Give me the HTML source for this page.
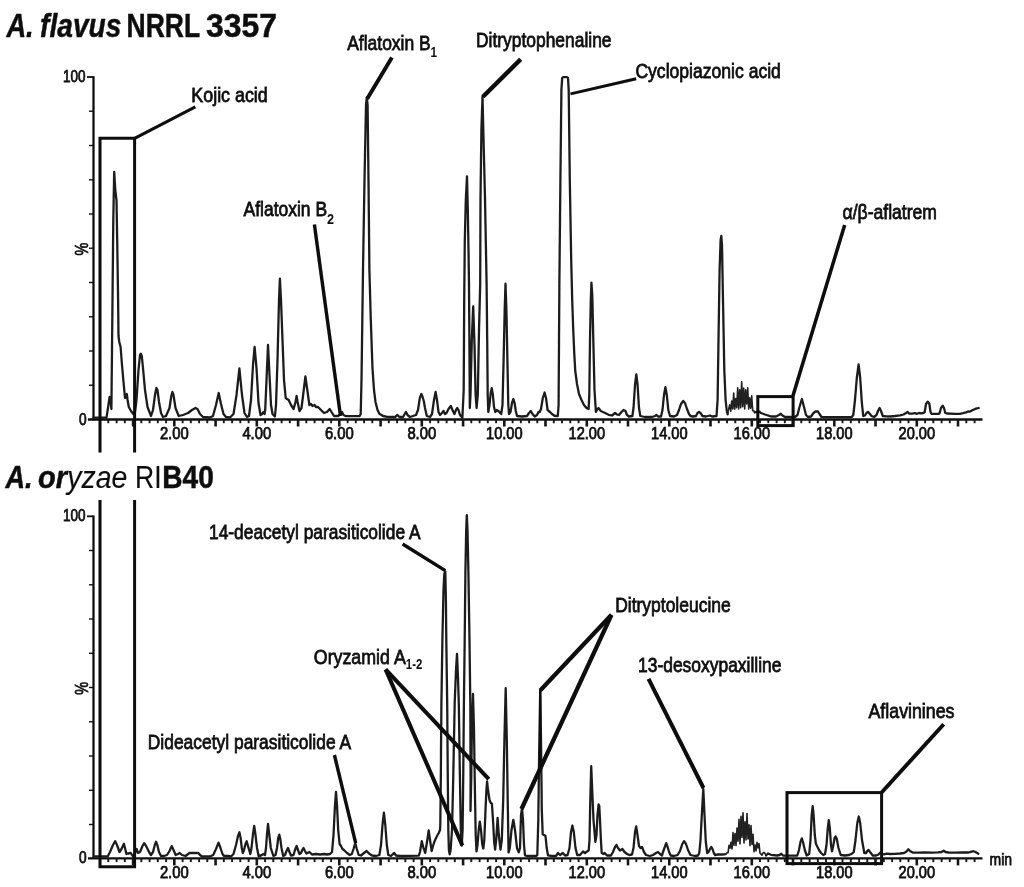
<!DOCTYPE html>
<html><head><meta charset="utf-8"><title>Chromatograms</title>
<style>html,body{margin:0;padding:0;background:#fff}svg{display:block}</style>
</head><body>
<svg width="1024" height="887" viewBox="0 0 1024 887">
<style>
text{font-family:"Liberation Sans",Arial,sans-serif;fill:#111}
.ax{stroke:#111;fill:none}
.tk{stroke:#151515;fill:none}
.tr{stroke:#1e1e1e;stroke-width:2.3;fill:none;stroke-linejoin:round;stroke-linecap:round}
.hp{stroke:#222;stroke-width:1.6;fill:none;stroke-linejoin:round;stroke-linecap:round}
.bx{stroke:#0a0a0a;stroke-width:3.0;fill:none}
.ln{stroke:#0a0a0a;fill:none;stroke-linecap:butt}
.tl{font-size:16px;stroke:#111;stroke-width:0.75px}
.lb{font-size:21px;stroke:#111;stroke-width:0.8px}
.sb{font-size:15px;font-weight:bold;stroke-width:0}
.ti{font-size:33.5px;font-weight:bold;stroke:#111;stroke-width:0.5px}
.it{font-style:italic}
.t2{font-size:30.5px}
.lt{font-weight:normal;stroke-width:0.15px}
</style>
<rect width="1024" height="887" fill="#fff"/>
<defs><filter id="soft" x="0" y="0" width="1024" height="887" filterUnits="userSpaceOnUse"><feGaussianBlur stdDeviation="0.45"/></filter></defs>
<g filter="url(#soft)">
<text y="37.3" class="ti"><tspan x="6.4" class="it" textLength="27.3" lengthAdjust="spacingAndGlyphs">A.</tspan> <tspan x="40.1" class="it" textLength="81.2" lengthAdjust="spacingAndGlyphs">flavus</tspan> <tspan x="126.6" textLength="73.0" lengthAdjust="spacingAndGlyphs">NRRL</tspan> <tspan x="206.0" textLength="71.0" lengthAdjust="spacingAndGlyphs">3357</tspan></text>
<text y="487.9" class="ti t2"><tspan x="5.5" class="it" textLength="27.0" lengthAdjust="spacingAndGlyphs">A.</tspan> <tspan x="38.0" class="it" textLength="29.0" lengthAdjust="spacingAndGlyphs">or</tspan><tspan x="67.3" class="it lt" textLength="60.0" lengthAdjust="spacingAndGlyphs">yzae</tspan> <tspan x="135.0" class="lt" textLength="26.5" lengthAdjust="spacingAndGlyphs">RI</tspan><tspan x="162.3" textLength="51.5" lengthAdjust="spacingAndGlyphs">B40</tspan></text>
<path d="M93.5,76.3 V420.2" class="ax" stroke-width="2.3"/>
<path d="M87.0,77.0 H93.5" class="ax" stroke-width="1.8"/>
<path d="M89.0,111.2 H93.5" class="ax" stroke-width="1.4"/>
<path d="M89.0,145.5 H93.5" class="ax" stroke-width="1.4"/>
<path d="M89.0,179.8 H93.5" class="ax" stroke-width="1.4"/>
<path d="M89.0,214.0 H93.5" class="ax" stroke-width="1.4"/>
<path d="M89.0,248.2 H93.5" class="ax" stroke-width="1.4"/>
<path d="M89.0,282.5 H93.5" class="ax" stroke-width="1.4"/>
<path d="M89.0,316.8 H93.5" class="ax" stroke-width="1.4"/>
<path d="M89.0,351.0 H93.5" class="ax" stroke-width="1.4"/>
<path d="M89.0,385.2 H93.5" class="ax" stroke-width="1.4"/>
<path d="M88,419.5 H982.5" class="ax" stroke-width="2.3"/>
<path d="M100.1,419.5 v3.7" class="tk" stroke-width="1.9"/>
<path d="M108.3,419.5 v3.7" class="tk" stroke-width="1.9"/>
<path d="M116.6,419.5 v3.7" class="tk" stroke-width="1.9"/>
<path d="M124.8,419.5 v3.7" class="tk" stroke-width="1.9"/>
<path d="M133.1,419.5 v7.0" class="tk" stroke-width="2.6"/>
<path d="M141.3,419.5 v3.7" class="tk" stroke-width="1.9"/>
<path d="M149.6,419.5 v3.7" class="tk" stroke-width="1.9"/>
<path d="M157.8,419.5 v3.7" class="tk" stroke-width="1.9"/>
<path d="M166.1,419.5 v3.7" class="tk" stroke-width="1.9"/>
<path d="M174.3,419.5 v7.0" class="tk" stroke-width="2.6"/>
<path d="M182.6,419.5 v3.7" class="tk" stroke-width="1.9"/>
<path d="M190.8,419.5 v3.7" class="tk" stroke-width="1.9"/>
<path d="M199.1,419.5 v3.7" class="tk" stroke-width="1.9"/>
<path d="M207.3,419.5 v3.7" class="tk" stroke-width="1.9"/>
<path d="M215.6,419.5 v7.0" class="tk" stroke-width="2.6"/>
<path d="M223.8,419.5 v3.7" class="tk" stroke-width="1.9"/>
<path d="M232.1,419.5 v3.7" class="tk" stroke-width="1.9"/>
<path d="M240.3,419.5 v3.7" class="tk" stroke-width="1.9"/>
<path d="M248.6,419.5 v3.7" class="tk" stroke-width="1.9"/>
<path d="M256.8,419.5 v7.0" class="tk" stroke-width="2.6"/>
<path d="M265.1,419.5 v3.7" class="tk" stroke-width="1.9"/>
<path d="M273.3,419.5 v3.7" class="tk" stroke-width="1.9"/>
<path d="M281.6,419.5 v3.7" class="tk" stroke-width="1.9"/>
<path d="M289.8,419.5 v3.7" class="tk" stroke-width="1.9"/>
<path d="M298.1,419.5 v7.0" class="tk" stroke-width="2.6"/>
<path d="M306.3,419.5 v3.7" class="tk" stroke-width="1.9"/>
<path d="M314.6,419.5 v3.7" class="tk" stroke-width="1.9"/>
<path d="M322.8,419.5 v3.7" class="tk" stroke-width="1.9"/>
<path d="M331.1,419.5 v3.7" class="tk" stroke-width="1.9"/>
<path d="M339.3,419.5 v7.0" class="tk" stroke-width="2.6"/>
<path d="M347.6,419.5 v3.7" class="tk" stroke-width="1.9"/>
<path d="M355.8,419.5 v3.7" class="tk" stroke-width="1.9"/>
<path d="M364.1,419.5 v3.7" class="tk" stroke-width="1.9"/>
<path d="M372.3,419.5 v3.7" class="tk" stroke-width="1.9"/>
<path d="M380.6,419.5 v7.0" class="tk" stroke-width="2.6"/>
<path d="M388.8,419.5 v3.7" class="tk" stroke-width="1.9"/>
<path d="M397.1,419.5 v3.7" class="tk" stroke-width="1.9"/>
<path d="M405.3,419.5 v3.7" class="tk" stroke-width="1.9"/>
<path d="M413.6,419.5 v3.7" class="tk" stroke-width="1.9"/>
<path d="M421.8,419.5 v7.0" class="tk" stroke-width="2.6"/>
<path d="M430.1,419.5 v3.7" class="tk" stroke-width="1.9"/>
<path d="M438.3,419.5 v3.7" class="tk" stroke-width="1.9"/>
<path d="M446.6,419.5 v3.7" class="tk" stroke-width="1.9"/>
<path d="M454.8,419.5 v3.7" class="tk" stroke-width="1.9"/>
<path d="M463.1,419.5 v7.0" class="tk" stroke-width="2.6"/>
<path d="M471.3,419.5 v3.7" class="tk" stroke-width="1.9"/>
<path d="M479.6,419.5 v3.7" class="tk" stroke-width="1.9"/>
<path d="M487.8,419.5 v3.7" class="tk" stroke-width="1.9"/>
<path d="M496.1,419.5 v3.7" class="tk" stroke-width="1.9"/>
<path d="M504.3,419.5 v7.0" class="tk" stroke-width="2.6"/>
<path d="M512.6,419.5 v3.7" class="tk" stroke-width="1.9"/>
<path d="M520.8,419.5 v3.7" class="tk" stroke-width="1.9"/>
<path d="M529.1,419.5 v3.7" class="tk" stroke-width="1.9"/>
<path d="M537.3,419.5 v3.7" class="tk" stroke-width="1.9"/>
<path d="M545.5,419.5 v7.0" class="tk" stroke-width="2.6"/>
<path d="M553.8,419.5 v3.7" class="tk" stroke-width="1.9"/>
<path d="M562.0,419.5 v3.7" class="tk" stroke-width="1.9"/>
<path d="M570.3,419.5 v3.7" class="tk" stroke-width="1.9"/>
<path d="M578.6,419.5 v3.7" class="tk" stroke-width="1.9"/>
<path d="M586.8,419.5 v7.0" class="tk" stroke-width="2.6"/>
<path d="M595.1,419.5 v3.7" class="tk" stroke-width="1.9"/>
<path d="M603.3,419.5 v3.7" class="tk" stroke-width="1.9"/>
<path d="M611.6,419.5 v3.7" class="tk" stroke-width="1.9"/>
<path d="M619.8,419.5 v3.7" class="tk" stroke-width="1.9"/>
<path d="M628.0,419.5 v7.0" class="tk" stroke-width="2.6"/>
<path d="M636.3,419.5 v3.7" class="tk" stroke-width="1.9"/>
<path d="M644.5,419.5 v3.7" class="tk" stroke-width="1.9"/>
<path d="M652.8,419.5 v3.7" class="tk" stroke-width="1.9"/>
<path d="M661.1,419.5 v3.7" class="tk" stroke-width="1.9"/>
<path d="M669.3,419.5 v7.0" class="tk" stroke-width="2.6"/>
<path d="M677.6,419.5 v3.7" class="tk" stroke-width="1.9"/>
<path d="M685.8,419.5 v3.7" class="tk" stroke-width="1.9"/>
<path d="M694.1,419.5 v3.7" class="tk" stroke-width="1.9"/>
<path d="M702.3,419.5 v3.7" class="tk" stroke-width="1.9"/>
<path d="M710.5,419.5 v7.0" class="tk" stroke-width="2.6"/>
<path d="M718.8,419.5 v3.7" class="tk" stroke-width="1.9"/>
<path d="M727.0,419.5 v3.7" class="tk" stroke-width="1.9"/>
<path d="M735.3,419.5 v3.7" class="tk" stroke-width="1.9"/>
<path d="M743.5,419.5 v3.7" class="tk" stroke-width="1.9"/>
<path d="M751.8,419.5 v7.0" class="tk" stroke-width="2.6"/>
<path d="M760.0,419.5 v3.7" class="tk" stroke-width="1.9"/>
<path d="M768.3,419.5 v3.7" class="tk" stroke-width="1.9"/>
<path d="M776.6,419.5 v3.7" class="tk" stroke-width="1.9"/>
<path d="M784.8,419.5 v3.7" class="tk" stroke-width="1.9"/>
<path d="M793.0,419.5 v7.0" class="tk" stroke-width="2.6"/>
<path d="M801.3,419.5 v3.7" class="tk" stroke-width="1.9"/>
<path d="M809.6,419.5 v3.7" class="tk" stroke-width="1.9"/>
<path d="M817.8,419.5 v3.7" class="tk" stroke-width="1.9"/>
<path d="M826.0,419.5 v3.7" class="tk" stroke-width="1.9"/>
<path d="M834.3,419.5 v7.0" class="tk" stroke-width="2.6"/>
<path d="M842.5,419.5 v3.7" class="tk" stroke-width="1.9"/>
<path d="M850.8,419.5 v3.7" class="tk" stroke-width="1.9"/>
<path d="M859.1,419.5 v3.7" class="tk" stroke-width="1.9"/>
<path d="M867.3,419.5 v3.7" class="tk" stroke-width="1.9"/>
<path d="M875.5,419.5 v7.0" class="tk" stroke-width="2.6"/>
<path d="M883.8,419.5 v3.7" class="tk" stroke-width="1.9"/>
<path d="M892.1,419.5 v3.7" class="tk" stroke-width="1.9"/>
<path d="M900.3,419.5 v3.7" class="tk" stroke-width="1.9"/>
<path d="M908.5,419.5 v3.7" class="tk" stroke-width="1.9"/>
<path d="M916.8,419.5 v7.0" class="tk" stroke-width="2.6"/>
<path d="M925.1,419.5 v3.7" class="tk" stroke-width="1.9"/>
<path d="M933.3,419.5 v3.7" class="tk" stroke-width="1.9"/>
<path d="M941.6,419.5 v3.7" class="tk" stroke-width="1.9"/>
<path d="M949.8,419.5 v3.7" class="tk" stroke-width="1.9"/>
<path d="M958.0,419.5 v7.0" class="tk" stroke-width="2.6"/>
<path d="M966.3,419.5 v3.7" class="tk" stroke-width="1.9"/>
<path d="M974.6,419.5 v3.7" class="tk" stroke-width="1.9"/>
<path d="M93.5,515.6 V859.1" class="ax" stroke-width="2.3"/>
<path d="M87.0,516.3 H93.5" class="ax" stroke-width="1.8"/>
<path d="M89.0,550.5 H93.5" class="ax" stroke-width="1.4"/>
<path d="M89.0,584.8 H93.5" class="ax" stroke-width="1.4"/>
<path d="M89.0,619.0 H93.5" class="ax" stroke-width="1.4"/>
<path d="M89.0,653.3 H93.5" class="ax" stroke-width="1.4"/>
<path d="M89.0,687.5 H93.5" class="ax" stroke-width="1.4"/>
<path d="M89.0,721.8 H93.5" class="ax" stroke-width="1.4"/>
<path d="M89.0,756.0 H93.5" class="ax" stroke-width="1.4"/>
<path d="M89.0,790.3 H93.5" class="ax" stroke-width="1.4"/>
<path d="M89.0,824.5 H93.5" class="ax" stroke-width="1.4"/>
<path d="M88,858.4 H982.5" class="ax" stroke-width="2.3"/>
<path d="M100.1,858.4 v3.7" class="tk" stroke-width="1.9"/>
<path d="M108.3,858.4 v3.7" class="tk" stroke-width="1.9"/>
<path d="M116.6,858.4 v3.7" class="tk" stroke-width="1.9"/>
<path d="M124.8,858.4 v3.7" class="tk" stroke-width="1.9"/>
<path d="M133.1,858.4 v7.0" class="tk" stroke-width="2.6"/>
<path d="M141.3,858.4 v3.7" class="tk" stroke-width="1.9"/>
<path d="M149.6,858.4 v3.7" class="tk" stroke-width="1.9"/>
<path d="M157.8,858.4 v3.7" class="tk" stroke-width="1.9"/>
<path d="M166.1,858.4 v3.7" class="tk" stroke-width="1.9"/>
<path d="M174.3,858.4 v7.0" class="tk" stroke-width="2.6"/>
<path d="M182.6,858.4 v3.7" class="tk" stroke-width="1.9"/>
<path d="M190.8,858.4 v3.7" class="tk" stroke-width="1.9"/>
<path d="M199.1,858.4 v3.7" class="tk" stroke-width="1.9"/>
<path d="M207.3,858.4 v3.7" class="tk" stroke-width="1.9"/>
<path d="M215.6,858.4 v7.0" class="tk" stroke-width="2.6"/>
<path d="M223.8,858.4 v3.7" class="tk" stroke-width="1.9"/>
<path d="M232.1,858.4 v3.7" class="tk" stroke-width="1.9"/>
<path d="M240.3,858.4 v3.7" class="tk" stroke-width="1.9"/>
<path d="M248.6,858.4 v3.7" class="tk" stroke-width="1.9"/>
<path d="M256.8,858.4 v7.0" class="tk" stroke-width="2.6"/>
<path d="M265.1,858.4 v3.7" class="tk" stroke-width="1.9"/>
<path d="M273.3,858.4 v3.7" class="tk" stroke-width="1.9"/>
<path d="M281.6,858.4 v3.7" class="tk" stroke-width="1.9"/>
<path d="M289.8,858.4 v3.7" class="tk" stroke-width="1.9"/>
<path d="M298.1,858.4 v7.0" class="tk" stroke-width="2.6"/>
<path d="M306.3,858.4 v3.7" class="tk" stroke-width="1.9"/>
<path d="M314.6,858.4 v3.7" class="tk" stroke-width="1.9"/>
<path d="M322.8,858.4 v3.7" class="tk" stroke-width="1.9"/>
<path d="M331.1,858.4 v3.7" class="tk" stroke-width="1.9"/>
<path d="M339.3,858.4 v7.0" class="tk" stroke-width="2.6"/>
<path d="M347.6,858.4 v3.7" class="tk" stroke-width="1.9"/>
<path d="M355.8,858.4 v3.7" class="tk" stroke-width="1.9"/>
<path d="M364.1,858.4 v3.7" class="tk" stroke-width="1.9"/>
<path d="M372.3,858.4 v3.7" class="tk" stroke-width="1.9"/>
<path d="M380.6,858.4 v7.0" class="tk" stroke-width="2.6"/>
<path d="M388.8,858.4 v3.7" class="tk" stroke-width="1.9"/>
<path d="M397.1,858.4 v3.7" class="tk" stroke-width="1.9"/>
<path d="M405.3,858.4 v3.7" class="tk" stroke-width="1.9"/>
<path d="M413.6,858.4 v3.7" class="tk" stroke-width="1.9"/>
<path d="M421.8,858.4 v7.0" class="tk" stroke-width="2.6"/>
<path d="M430.1,858.4 v3.7" class="tk" stroke-width="1.9"/>
<path d="M438.3,858.4 v3.7" class="tk" stroke-width="1.9"/>
<path d="M446.6,858.4 v3.7" class="tk" stroke-width="1.9"/>
<path d="M454.8,858.4 v3.7" class="tk" stroke-width="1.9"/>
<path d="M463.1,858.4 v7.0" class="tk" stroke-width="2.6"/>
<path d="M471.3,858.4 v3.7" class="tk" stroke-width="1.9"/>
<path d="M479.6,858.4 v3.7" class="tk" stroke-width="1.9"/>
<path d="M487.8,858.4 v3.7" class="tk" stroke-width="1.9"/>
<path d="M496.1,858.4 v3.7" class="tk" stroke-width="1.9"/>
<path d="M504.3,858.4 v7.0" class="tk" stroke-width="2.6"/>
<path d="M512.6,858.4 v3.7" class="tk" stroke-width="1.9"/>
<path d="M520.8,858.4 v3.7" class="tk" stroke-width="1.9"/>
<path d="M529.1,858.4 v3.7" class="tk" stroke-width="1.9"/>
<path d="M537.3,858.4 v3.7" class="tk" stroke-width="1.9"/>
<path d="M545.5,858.4 v7.0" class="tk" stroke-width="2.6"/>
<path d="M553.8,858.4 v3.7" class="tk" stroke-width="1.9"/>
<path d="M562.0,858.4 v3.7" class="tk" stroke-width="1.9"/>
<path d="M570.3,858.4 v3.7" class="tk" stroke-width="1.9"/>
<path d="M578.6,858.4 v3.7" class="tk" stroke-width="1.9"/>
<path d="M586.8,858.4 v7.0" class="tk" stroke-width="2.6"/>
<path d="M595.1,858.4 v3.7" class="tk" stroke-width="1.9"/>
<path d="M603.3,858.4 v3.7" class="tk" stroke-width="1.9"/>
<path d="M611.6,858.4 v3.7" class="tk" stroke-width="1.9"/>
<path d="M619.8,858.4 v3.7" class="tk" stroke-width="1.9"/>
<path d="M628.0,858.4 v7.0" class="tk" stroke-width="2.6"/>
<path d="M636.3,858.4 v3.7" class="tk" stroke-width="1.9"/>
<path d="M644.5,858.4 v3.7" class="tk" stroke-width="1.9"/>
<path d="M652.8,858.4 v3.7" class="tk" stroke-width="1.9"/>
<path d="M661.1,858.4 v3.7" class="tk" stroke-width="1.9"/>
<path d="M669.3,858.4 v7.0" class="tk" stroke-width="2.6"/>
<path d="M677.6,858.4 v3.7" class="tk" stroke-width="1.9"/>
<path d="M685.8,858.4 v3.7" class="tk" stroke-width="1.9"/>
<path d="M694.1,858.4 v3.7" class="tk" stroke-width="1.9"/>
<path d="M702.3,858.4 v3.7" class="tk" stroke-width="1.9"/>
<path d="M710.5,858.4 v7.0" class="tk" stroke-width="2.6"/>
<path d="M718.8,858.4 v3.7" class="tk" stroke-width="1.9"/>
<path d="M727.0,858.4 v3.7" class="tk" stroke-width="1.9"/>
<path d="M735.3,858.4 v3.7" class="tk" stroke-width="1.9"/>
<path d="M743.5,858.4 v3.7" class="tk" stroke-width="1.9"/>
<path d="M751.8,858.4 v7.0" class="tk" stroke-width="2.6"/>
<path d="M760.0,858.4 v3.7" class="tk" stroke-width="1.9"/>
<path d="M768.3,858.4 v3.7" class="tk" stroke-width="1.9"/>
<path d="M776.6,858.4 v3.7" class="tk" stroke-width="1.9"/>
<path d="M784.8,858.4 v3.7" class="tk" stroke-width="1.9"/>
<path d="M793.0,858.4 v7.0" class="tk" stroke-width="2.6"/>
<path d="M801.3,858.4 v3.7" class="tk" stroke-width="1.9"/>
<path d="M809.6,858.4 v3.7" class="tk" stroke-width="1.9"/>
<path d="M817.8,858.4 v3.7" class="tk" stroke-width="1.9"/>
<path d="M826.0,858.4 v3.7" class="tk" stroke-width="1.9"/>
<path d="M834.3,858.4 v7.0" class="tk" stroke-width="2.6"/>
<path d="M842.5,858.4 v3.7" class="tk" stroke-width="1.9"/>
<path d="M850.8,858.4 v3.7" class="tk" stroke-width="1.9"/>
<path d="M859.1,858.4 v3.7" class="tk" stroke-width="1.9"/>
<path d="M867.3,858.4 v3.7" class="tk" stroke-width="1.9"/>
<path d="M875.5,858.4 v7.0" class="tk" stroke-width="2.6"/>
<path d="M883.8,858.4 v3.7" class="tk" stroke-width="1.9"/>
<path d="M892.1,858.4 v3.7" class="tk" stroke-width="1.9"/>
<path d="M900.3,858.4 v3.7" class="tk" stroke-width="1.9"/>
<path d="M908.5,858.4 v3.7" class="tk" stroke-width="1.9"/>
<path d="M916.8,858.4 v7.0" class="tk" stroke-width="2.6"/>
<path d="M925.1,858.4 v3.7" class="tk" stroke-width="1.9"/>
<path d="M933.3,858.4 v3.7" class="tk" stroke-width="1.9"/>
<path d="M941.6,858.4 v3.7" class="tk" stroke-width="1.9"/>
<path d="M949.8,858.4 v3.7" class="tk" stroke-width="1.9"/>
<path d="M958.0,858.4 v7.0" class="tk" stroke-width="2.6"/>
<path d="M966.3,858.4 v3.7" class="tk" stroke-width="1.9"/>
<path d="M974.6,858.4 v3.7" class="tk" stroke-width="1.9"/>
<text x="174.3" y="439.4" class="tl" text-anchor="middle" textLength="28.8" lengthAdjust="spacingAndGlyphs">2.00</text>
<text x="256.8" y="439.4" class="tl" text-anchor="middle" textLength="28.8" lengthAdjust="spacingAndGlyphs">4.00</text>
<text x="339.3" y="439.4" class="tl" text-anchor="middle" textLength="28.8" lengthAdjust="spacingAndGlyphs">6.00</text>
<text x="421.8" y="439.4" class="tl" text-anchor="middle" textLength="28.8" lengthAdjust="spacingAndGlyphs">8.00</text>
<text x="504.3" y="439.4" class="tl" text-anchor="middle" textLength="36.5" lengthAdjust="spacingAndGlyphs">10.00</text>
<text x="586.8" y="439.4" class="tl" text-anchor="middle" textLength="36.5" lengthAdjust="spacingAndGlyphs">12.00</text>
<text x="669.3" y="439.4" class="tl" text-anchor="middle" textLength="36.5" lengthAdjust="spacingAndGlyphs">14.00</text>
<text x="751.8" y="439.4" class="tl" text-anchor="middle" textLength="36.5" lengthAdjust="spacingAndGlyphs">16.00</text>
<text x="834.3" y="439.4" class="tl" text-anchor="middle" textLength="36.5" lengthAdjust="spacingAndGlyphs">18.00</text>
<text x="916.8" y="439.4" class="tl" text-anchor="middle" textLength="36.5" lengthAdjust="spacingAndGlyphs">20.00</text>
<text x="174.3" y="878.4" class="tl" text-anchor="middle" textLength="28.8" lengthAdjust="spacingAndGlyphs">2.00</text>
<text x="256.8" y="878.4" class="tl" text-anchor="middle" textLength="28.8" lengthAdjust="spacingAndGlyphs">4.00</text>
<text x="339.3" y="878.4" class="tl" text-anchor="middle" textLength="28.8" lengthAdjust="spacingAndGlyphs">6.00</text>
<text x="421.8" y="878.4" class="tl" text-anchor="middle" textLength="28.8" lengthAdjust="spacingAndGlyphs">8.00</text>
<text x="504.3" y="878.4" class="tl" text-anchor="middle" textLength="36.5" lengthAdjust="spacingAndGlyphs">10.00</text>
<text x="586.8" y="878.4" class="tl" text-anchor="middle" textLength="36.5" lengthAdjust="spacingAndGlyphs">12.00</text>
<text x="669.3" y="878.4" class="tl" text-anchor="middle" textLength="36.5" lengthAdjust="spacingAndGlyphs">14.00</text>
<text x="751.8" y="878.4" class="tl" text-anchor="middle" textLength="36.5" lengthAdjust="spacingAndGlyphs">16.00</text>
<text x="834.3" y="878.4" class="tl" text-anchor="middle" textLength="36.5" lengthAdjust="spacingAndGlyphs">18.00</text>
<text x="916.8" y="878.4" class="tl" text-anchor="middle" textLength="36.5" lengthAdjust="spacingAndGlyphs">20.00</text>
<text x="85.6" y="82.4" class="tl" text-anchor="end" textLength="22.5" lengthAdjust="spacingAndGlyphs">100</text>
<text x="85.6" y="521.4" class="tl" text-anchor="end" textLength="22.5" lengthAdjust="spacingAndGlyphs">100</text>
<text x="86.6" y="424.5" class="tl" text-anchor="end" textLength="7.6" lengthAdjust="spacingAndGlyphs">0</text>
<text x="86.6" y="863.4" class="tl" text-anchor="end" textLength="7.6" lengthAdjust="spacingAndGlyphs">0</text>
<text transform="translate(88.3,249.2) rotate(-90)" class="tl" text-anchor="middle" textLength="12.8" lengthAdjust="spacingAndGlyphs" style="font-size:17.5px">%</text>
<text transform="translate(88.3,688.4) rotate(-90)" class="tl" text-anchor="middle" textLength="12.8" lengthAdjust="spacingAndGlyphs" style="font-size:17.5px">%</text>
<text x="989.5" y="864.5" class="tl" textLength="22.5" lengthAdjust="spacingAndGlyphs" style="font-size:16px">min</text>
<path class="tr" d="M93.5,417.6 L106.5,417.6 L108.3,406.0 L109.6,397.0 L110.5,400.0 L111.4,409.0 L112.1,340.0 L112.6,290.0 L113.3,220.0 L114.2,171.8 L115.3,190.0 L116.5,200.2 L117.2,240.0 L118.1,300.0 L118.5,336.0 L119.3,342.0 L120.6,347.0 L122.0,365.0 L123.5,382.0 L125.0,398.0 L125.8,397.0 L126.8,394.0 L127.6,400.0 L128.8,407.0 L131.0,411.0 L133.3,414.0 L135.0,412.0 L136.5,400.0 L138.5,370.0 L140.0,355.0 L140.8,353.7 L141.8,356.0 L143.0,368.0 L145.0,390.0 L147.5,407.0 L151.0,416.0 L153.0,410.0 L155.0,395.0 L156.4,388.0 L157.5,390.0 L159.0,402.0 L161.0,413.0 L163.0,417.0 L166.0,416.0 L169.5,408.0 L171.3,396.0 L172.4,392.0 L173.5,395.0 L175.5,408.0 L178.7,416.0 L183.0,415.0 L188.0,413.0 L192.0,410.0 L195.5,408.0 L197.5,409.0 L200.0,414.0 L203.0,417.0 L210.0,417.5 L213.0,416.0 L216.0,405.0 L218.7,393.0 L221.0,404.0 L223.5,414.0 L226.0,417.0 L230.0,417.5 L233.5,414.0 L236.5,395.0 L239.4,368.5 L242.0,395.0 L244.5,413.0 L247.0,417.0 L249.0,416.0 L251.0,400.0 L253.0,365.0 L254.6,346.8 L256.5,368.0 L258.5,403.0 L260.5,415.0 L262.0,414.0 L263.5,412.0 L264.5,414.0 L265.2,410.0 L266.5,380.0 L268.0,344.8 L269.5,375.0 L271.0,405.0 L272.5,414.0 L274.9,416.5 L276.0,405.0 L277.5,360.0 L279.0,300.0 L279.9,278.7 L281.0,300.0 L282.5,340.0 L284.0,380.0 L285.7,398.0 L287.0,399.0 L288.7,400.0 L291.0,405.0 L293.6,409.0 L295.5,402.0 L296.6,396.0 L297.6,402.0 L299.5,411.0 L301.5,408.0 L303.5,392.0 L305.4,376.4 L307.0,388.0 L309.4,405.0 L311.0,404.0 L312.5,406.0 L314.5,405.0 L316.0,407.0 L318.0,407.0 L320.0,409.0 L324.0,413.0 L327.0,412.0 L329.7,409.0 L331.5,412.0 L334.0,416.0 L338.0,416.0 L340.5,414.0 L342.0,412.0 L343.5,415.0 L346.0,416.2 L359.5,416.2 L360.7,414.0 L361.5,380.0 L363.0,270.0 L364.5,180.0 L366.0,105.0 L366.8,97.7 L367.6,105.0 L368.5,180.0 L369.4,270.0 L370.8,320.0 L372.5,368.5 L374.0,390.0 L375.5,402.0 L377.5,410.0 L379.4,413.8 L383.0,416.0 L387.3,416.8 L395.0,417.0 L397.5,415.0 L399.5,417.0 L403.0,417.0 L404.7,414.0 L406.0,411.9 L407.5,415.0 L410.0,417.0 L413.0,416.0 L416.0,415.0 L418.0,410.0 L419.8,398.0 L421.4,394.0 L422.6,397.0 L423.8,401.0 L425.0,408.0 L426.8,416.0 L430.0,417.0 L432.0,414.0 L434.0,400.0 L435.6,392.0 L437.0,400.0 L438.5,412.0 L440.0,415.0 L442.0,413.0 L443.5,411.0 L445.0,414.0 L446.5,413.0 L448.5,409.0 L450.8,406.0 L452.5,410.0 L454.4,414.0 L456.0,410.0 L457.3,408.0 L458.5,410.0 L460.0,415.0 L462.4,417.8 L463.7,390.0 L464.2,300.0 L464.8,240.0 L465.8,200.0 L467.0,176.4 L467.8,210.0 L468.5,250.0 L469.0,284.0 L469.4,340.0 L469.8,408.0 L470.5,395.0 L471.8,340.0 L473.2,306.4 L474.5,345.0 L475.6,395.0 L476.6,408.0 L477.8,395.0 L479.0,330.0 L480.2,284.0 L480.5,198.0 L481.4,130.0 L482.5,96.5 L483.3,130.0 L485.0,198.0 L486.6,284.0 L487.2,340.0 L487.7,395.0 L488.3,412.0 L489.5,405.0 L490.7,393.0 L491.7,388.2 L492.8,394.0 L494.0,407.0 L495.3,412.0 L496.8,410.0 L498.2,411.0 L499.5,412.0 L501.2,414.0 L502.5,405.0 L503.6,360.0 L504.7,310.0 L505.5,283.7 L506.4,310.0 L507.5,365.0 L508.3,405.0 L509.0,414.0 L510.5,412.0 L512.0,403.0 L513.4,399.0 L514.6,403.0 L515.8,411.0 L517.0,416.0 L522.0,416.5 L527.0,416.0 L529.0,413.0 L530.8,411.0 L532.5,414.0 L534.7,416.5 L537.0,415.0 L538.5,412.0 L539.7,412.0 L541.0,409.0 L542.8,398.0 L544.6,392.5 L546.0,398.0 L547.6,410.0 L550.0,412.0 L552.0,414.0 L554.5,415.8 L557.8,416.0 L558.6,405.0 L559.4,280.0 L560.4,180.0 L561.4,90.0 L562.2,78.0 L563.0,77.2 L567.0,77.2 L568.0,78.0 L568.7,90.0 L569.8,180.0 L571.2,260.0 L572.2,300.0 L573.2,329.0 L574.2,352.0 L575.2,370.5 L577.0,384.0 L579.0,394.0 L581.5,400.0 L584.0,405.0 L586.5,408.0 L588.6,409.0 L589.3,395.0 L590.0,340.0 L590.8,300.0 L591.4,282.7 L592.3,295.0 L593.3,340.0 L594.5,390.0 L595.9,411.9 L597.5,409.0 L598.5,408.0 L600.8,411.0 L604.0,412.5 L608.7,414.8 L612.0,415.5 L615.0,413.0 L617.0,414.5 L619.0,415.0 L621.5,412.0 L623.5,410.0 L625.5,411.0 L627.0,415.0 L629.0,416.5 L632.4,416.0 L633.5,408.0 L635.0,385.0 L636.3,374.4 L637.6,385.0 L639.0,408.0 L640.3,416.0 L645.0,417.0 L652.0,417.0 L655.0,416.0 L656.5,415.0 L658.0,416.5 L661.0,416.5 L662.5,410.0 L664.0,395.0 L665.4,387.2 L666.8,395.0 L668.3,410.0 L670.0,416.0 L674.0,416.5 L677.0,415.0 L679.0,410.0 L681.0,404.0 L683.2,401.0 L685.0,403.0 L687.0,409.0 L689.0,414.0 L690.5,416.0 L693.0,416.5 L696.0,416.0 L697.5,413.0 L699.0,411.9 L700.5,413.0 L702.5,416.0 L706.0,416.5 L710.0,415.5 L712.0,416.5 L716.5,416.0 L717.6,400.0 L718.5,340.0 L719.6,270.0 L720.6,240.0 L721.3,236.0 L722.0,245.0 L723.0,300.0 L724.3,370.0 L725.6,400.0 L726.8,411.0 L727.6,414.3 L727.7,413.2"/>
<path class="hp" d="M727.7,413.2 L728.7,408.8 L729.7,404.9 L730.7,411.3 L731.7,401.1 L732.7,408.9 L733.7,393.1 L734.7,409.3 L735.7,398.5 L736.7,407.6 L737.7,387.9 L738.7,409.0 L739.7,389.8 L740.7,407.6 L741.7,381.7 L742.7,406.6 L743.7,388.0 L744.7,409.0 L745.7,389.7 L746.7,404.0 L747.7,387.8 L748.7,409.0 L749.7,397.8 L750.7,408.1 L751.7,395.9 L752.7,410.8 L753.7,410.7 L754.7,412.3"/>
<path class="tr" d="M754.7,412.3 L756.5,411.8 L759.0,411.5 L761.0,413.0 L765.0,414.5 L771.0,416.5 L776.0,416.5 L779.0,415.0 L780.8,413.8 L782.5,415.5 L785.0,417.0 L795.0,417.0 L797.5,415.0 L799.5,407.0 L801.9,399.0 L804.0,407.0 L806.0,415.0 L808.0,417.0 L811.0,416.5 L813.5,413.0 L815.5,411.5 L818.0,411.5 L819.5,414.0 L821.5,417.0 L825.0,417.2 L851.5,417.2 L853.3,415.0 L855.0,400.0 L856.8,378.0 L858.6,364.5 L860.2,378.0 L861.8,402.0 L863.2,416.0 L865.0,415.5 L866.5,413.0 L868.0,411.9 L869.5,413.5 L871.5,416.0 L874.0,417.0 L876.5,415.0 L878.2,410.5 L879.6,408.0 L881.0,411.0 L882.8,416.0 L886.0,416.4 L890.0,416.5 L895.0,416.0 L900.0,415.3 L903.5,414.5 L906.0,413.0 L907.6,411.9 L909.0,413.5 L912.0,413.6 L915.0,413.2 L917.0,413.8 L919.0,413.0 L921.0,413.3 L923.3,413.0 L924.7,412.0 L926.0,404.0 L927.7,401.6 L929.3,403.5 L930.5,412.0 L931.5,413.8 L935.0,413.8 L938.0,413.8 L939.5,413.5 L941.0,408.0 L942.7,405.6 L944.0,408.0 L945.3,413.0 L947.0,413.5 L955.0,413.8 L960.0,413.8 L963.0,413.2 L966.0,412.4 L968.0,411.5 L970.0,411.6 L972.0,410.4 L974.0,409.5 L976.0,408.6 L978.6,408.0"/>
<path class="tr" d="M94.5,856.5 L107.7,856.5 L110.0,852.0 L113.0,845.0 L115.2,841.2 L117.0,845.0 L119.5,852.0 L121.5,849.0 L123.9,843.8 L125.0,848.0 L126.4,854.0 L128.0,853.5 L130.8,853.0 L133.3,857.0 L135.0,853.0 L136.7,849.0 L138.0,853.0 L140.0,852.0 L142.5,846.0 L144.2,843.2 L145.5,845.0 L147.1,848.0 L149.0,852.0 L151.0,855.0 L153.0,852.0 L154.8,845.0 L156.0,841.8 L157.3,845.0 L159.0,852.0 L161.0,856.0 L164.0,856.0 L167.0,855.0 L169.5,851.0 L171.8,846.1 L173.5,850.0 L175.7,855.0 L178.0,854.0 L179.7,853.0 L182.0,855.0 L185.6,856.0 L187.5,854.5 L189.5,853.0 L198.4,853.0 L200.0,855.0 L202.0,856.5 L210.0,856.5 L213.2,855.0 L216.0,849.0 L218.5,842.6 L220.5,848.0 L222.5,854.0 L224.0,856.0 L228.0,856.0 L231.0,856.5 L233.5,854.0 L236.0,845.0 L238.0,836.0 L239.4,832.3 L240.6,838.0 L241.8,848.0 L242.8,853.0 L244.0,850.0 L245.5,844.0 L246.7,841.2 L248.0,846.0 L250.3,854.0 L251.5,848.0 L253.0,834.0 L254.2,826.0 L255.4,834.0 L257.0,848.0 L258.6,856.0 L261.0,855.5 L263.5,854.0 L265.0,855.0 L266.0,848.0 L267.0,834.0 L268.0,824.0 L269.2,834.0 L270.8,848.0 L273.4,856.0 L275.5,855.0 L277.0,848.0 L278.2,838.0 L279.3,834.7 L280.3,839.0 L281.5,848.0 L283.2,856.0 L285.0,855.0 L286.5,851.0 L288.0,848.0 L289.5,852.0 L291.0,855.5 L293.5,855.0 L295.0,850.0 L296.6,846.0 L298.0,850.0 L299.5,854.0 L301.0,853.0 L302.3,850.0 L303.5,848.0 L305.0,851.0 L306.5,853.5 L309.4,852.0 L312.0,854.5 L316.0,854.0 L320.0,854.5 L324.0,854.0 L327.0,854.5 L330.0,854.0 L332.0,852.0 L333.5,835.0 L335.0,805.0 L336.0,791.9 L337.0,805.0 L338.2,830.0 L339.6,844.0 L341.0,846.0 L342.5,849.0 L343.9,850.0 L347.0,853.0 L349.8,855.0 L351.8,854.0 L353.5,849.0 L355.3,843.2 L356.8,849.0 L358.7,855.0 L361.0,855.5 L364.0,853.0 L366.6,851.0 L369.0,853.5 L372.0,855.5 L376.0,856.0 L379.4,855.0 L381.0,845.0 L382.5,825.0 L383.9,812.6 L385.3,825.0 L386.8,845.0 L388.3,855.0 L391.0,856.0 L393.0,854.0 L394.2,853.0 L396.0,855.5 L400.0,856.0 L418.8,855.6 L420.0,852.0 L421.8,841.2 L423.5,848.0 L425.2,853.0 L427.0,842.0 L428.7,830.3 L430.0,840.0 L431.7,851.0 L433.0,846.0 L434.6,841.2 L436.5,837.0 L438.6,833.3 L440.0,830.0 L440.3,825.0 L440.8,780.0 L441.4,703.0 L442.4,640.0 L443.5,590.0 L444.3,574.0 L445.3,571.5 L445.9,600.0 L446.3,640.0 L447.2,703.0 L447.8,780.0 L448.3,830.0 L448.9,850.0 L449.7,854.3 L450.6,850.0 L452.0,830.0 L453.2,780.0 L454.7,703.0 L456.0,670.0 L457.0,653.8 L457.9,675.0 L458.8,703.0 L459.8,770.0 L460.8,830.0 L461.8,845.7 L462.6,830.0 L463.2,780.0 L463.9,703.0 L464.7,640.0 L465.4,572.0 L466.2,530.0 L466.8,515.2 L467.5,530.0 L468.4,572.0 L469.5,640.0 L470.3,703.0 L470.6,780.0 L470.5,811.0 L471.2,780.0 L471.9,730.0 L473.0,694.0 L474.0,730.0 L474.9,790.0 L475.7,835.0 L476.5,851.4 L477.5,845.0 L478.7,830.0 L479.8,821.7 L481.0,830.0 L482.2,844.0 L483.3,848.5 L484.3,840.0 L485.5,810.0 L486.4,790.0 L487.1,781.5 L488.0,790.0 L489.5,800.0 L490.8,803.0 L491.9,803.5 L493.0,820.0 L494.2,842.0 L495.1,849.5 L496.2,840.0 L497.6,817.9 L498.8,835.0 L500.5,849.5 L501.8,840.0 L503.2,800.0 L504.4,740.0 L505.7,688.2 L506.8,740.0 L507.7,800.0 L508.6,852.4 L509.8,848.0 L511.5,830.0 L513.3,819.8 L515.0,830.0 L517.0,848.0 L518.7,852.4 L520.0,848.0 L521.0,815.0 L522.0,808.3 L523.0,820.0 L524.0,845.0 L525.0,855.3 L527.0,856.0 L536.0,856.0 L537.3,855.0 L538.3,820.0 L539.2,750.0 L540.2,690.5 L541.0,740.0 L541.8,810.0 L542.7,834.2 L544.0,835.0 L545.5,836.0 L546.7,848.0 L548.0,855.3 L552.0,856.0 L556.0,856.0 L558.0,853.0 L560.0,855.0 L562.8,853.0 L565.0,855.5 L567.6,855.0 L569.5,848.0 L571.0,832.0 L572.4,825.5 L573.8,832.0 L575.5,848.0 L577.2,855.0 L580.0,855.0 L583.0,851.5 L585.0,853.0 L587.0,851.5 L588.7,850.5 L589.5,840.0 L590.3,800.0 L591.2,766.1 L592.2,790.0 L593.5,820.0 L595.4,841.8 L596.5,835.0 L597.5,815.0 L598.6,804.5 L599.3,806.0 L600.0,820.0 L600.9,840.0 L601.7,853.0 L603.5,854.0 L604.7,853.0 L607.0,855.5 L611.0,855.5 L613.0,852.0 L615.0,847.0 L616.5,845.0 L618.0,848.0 L620.0,850.5 L622.4,849.0 L624.5,852.0 L627.0,854.0 L629.3,855.0 L632.0,854.5 L633.5,848.0 L635.0,832.0 L636.2,826.4 L637.5,835.0 L639.0,846.0 L640.5,848.0 L642.0,847.0 L644.0,852.0 L646.0,855.0 L650.0,856.0 L653.0,855.0 L656.0,853.0 L658.0,852.0 L660.0,854.0 L662.0,855.5 L663.0,852.0 L664.8,847.0 L666.2,843.2 L667.6,847.0 L669.5,853.0 L670.7,855.5 L674.0,856.0 L677.6,855.0 L680.0,851.0 L682.3,844.0 L684.1,841.2 L686.0,844.0 L688.0,850.0 L690.5,855.0 L695.0,856.0 L698.0,855.5 L699.3,853.0 L700.5,840.0 L701.8,815.0 L703.3,789.0 L704.5,815.0 L705.8,842.0 L707.2,853.0 L708.5,852.0 L710.0,849.0 L711.2,847.0 L712.5,849.0 L713.8,853.0 L715.1,855.0 L718.0,854.5 L722.0,854.5 L724.5,854.4 L725.0,854.2"/>
<path class="hp" d="M725.0,854.2 L726.0,854.2 L727.0,852.7 L728.0,852.8 L729.0,845.3 L730.0,848.1 L731.0,842.2 L732.0,849.0 L733.0,832.5 L734.0,845.3 L735.0,833.5 L736.0,845.5 L737.0,828.0 L738.0,841.3 L739.0,819.3 L740.0,843.9 L741.0,816.3 L742.0,837.4 L743.0,812.7 L744.0,843.0 L745.0,821.8 L746.0,840.0 L747.0,813.5 L748.0,838.9 L749.0,824.7 L750.0,845.7 L751.0,825.6 L752.0,844.5 L753.0,834.2 L754.0,851.8 L755.0,845.0 L756.0,850.8 L757.0,842.4 L758.0,847.9 L759.0,843.6 L760.0,853.2 L761.0,854.1 L762.0,855.1 L763.0,853.0 L764.0,852.4 L765.0,853.4 L766.0,855.5"/>
<path class="tr" d="M766.0,855.5 L768.0,853.5 L771.0,854.8 L777.0,855.5 L779.5,855.0 L781.2,853.7 L783.0,855.5 L786.0,855.7 L796.0,855.7 L797.3,855.5 L799.0,850.0 L800.5,842.0 L801.8,838.4 L803.0,842.0 L804.8,850.0 L806.7,855.5 L809.2,854.0 L810.5,840.0 L811.7,815.0 L812.7,806.1 L813.6,815.0 L814.8,835.0 L815.9,843.8 L817.0,846.0 L819.0,850.0 L821.0,853.0 L823.3,855.0 L825.0,854.0 L826.5,845.0 L827.8,828.0 L828.8,820.2 L829.8,828.0 L831.0,845.0 L832.0,851.3 L833.2,846.0 L834.6,838.0 L835.7,836.4 L836.8,839.0 L838.5,848.0 L840.7,855.0 L845.0,855.5 L849.0,855.0 L851.9,853.7 L853.8,852.0 L855.5,840.0 L857.3,823.0 L858.8,816.5 L860.2,823.0 L862.0,840.0 L864.3,853.0 L866.0,853.0 L867.3,851.0 L868.5,850.0 L870.0,852.0 L873.0,855.7 L876.0,855.5 L878.5,854.5 L880.4,852.5 L882.0,854.0 L884.0,854.3 L886.6,853.7 L890.0,854.0 L895.0,853.8 L900.0,853.5 L904.0,853.0 L906.5,851.5 L908.4,849.3 L910.0,851.0 L912.6,852.5 L918.0,852.7 L925.0,852.3 L932.0,852.6 L938.0,852.4 L941.5,852.0 L943.7,850.7 L945.5,852.0 L948.6,852.5 L955.0,852.6 L962.0,852.4 L968.5,852.5 L971.0,851.8 L973.4,851.2 L975.5,852.0 L978.4,853.7"/>
<path class="bx" d="M100,452.5 V138.3 H134.6 V452.5"/>
<path class="bx" d="M100,500 V866.8 H134.6 V500"/>
<rect class="bx" x="757.8" y="396.6" width="35.3" height="29"/>
<rect class="bx" x="787" y="792.6" width="94.6" height="71"/>
<path class="ln" d="M134.6,138.3 L195.3,106.9" stroke-width="3.0"/>
<path class="ln" d="M319.2,260.0 L340.5,416.0" stroke-width="3.4"/>
<path class="ln" d="M319.3,260.5 L314.4,224.6" stroke-width="3.4"/>
<path class="ln" d="M391.9,57.4 L367.2,98.7" stroke-width="3.9"/>
<path class="ln" d="M520.7,59.2 L482.9,96.8" stroke-width="4.4"/>
<path class="ln" d="M570.5,93.9 L636.2,78.7" stroke-width="3.0"/>
<path class="ln" d="M844.7,224.9 L792.9,396.0" stroke-width="3.5"/>
<path class="ln" d="M402.6,544.0 L445.3,570.6" stroke-width="3.4"/>
<path class="ln" d="M385.6,669.4 L462.4,845.5" stroke-width="4.0"/>
<path class="ln" d="M385.6,669.4 L488.8,779.2" stroke-width="4.0"/>
<path class="ln" d="M334.4,755.0 L355.7,843.2" stroke-width="3.4"/>
<path class="ln" d="M611.5,614.8 L540.2,690.5" stroke-width="4.2"/>
<path class="ln" d="M611.5,614.8 L521.5,809.0" stroke-width="4.3"/>
<path class="ln" d="M648.5,678.8 L703.5,788.0" stroke-width="4.0"/>
<path class="ln" d="M881.6,792.5 L943.7,724.2" stroke-width="3.9"/>
<path class="ln" d="M540.3,689.5 V770" stroke-width="2.2"/>
<text x="191.3" y="102.0" class="lb" textLength="76.5" lengthAdjust="spacingAndGlyphs">Kojic acid</text>
<text y="50.2" class="lb"><tspan x="347.2" textLength="83.5" lengthAdjust="spacingAndGlyphs">Aflatoxin B</tspan><tspan x="430.5" y="57" class="sb" textLength="6.5" lengthAdjust="spacingAndGlyphs">1</tspan></text>
<text y="216" class="lb"><tspan x="243.6" textLength="83.5" lengthAdjust="spacingAndGlyphs">Aflatoxin B</tspan><tspan x="327" y="223.8" class="sb" textLength="7" lengthAdjust="spacingAndGlyphs">2</tspan></text>
<text x="476.0" y="47.4" class="lb" textLength="135.5" lengthAdjust="spacingAndGlyphs">Ditryptophenaline</text>
<text x="635.4" y="77.5" class="lb" textLength="145.5" lengthAdjust="spacingAndGlyphs">Cyclopiazonic acid</text>
<text x="842.5" y="219.4" class="lb" textLength="94.5" lengthAdjust="spacingAndGlyphs">α/β-aflatrem</text>
<text x="209.0" y="539.4" class="lb" textLength="211.5" lengthAdjust="spacingAndGlyphs">14-deacetyl parasiticolide A</text>
<text y="663.5" class="lb"><tspan x="313.8" textLength="92.0" lengthAdjust="spacingAndGlyphs">Oryzamid A</tspan><tspan x="405.8" y="668.8" class="sb" style="font-size:14px" textLength="16.5" lengthAdjust="spacingAndGlyphs">1-2</tspan></text>
<text x="147.8" y="749.3" class="lb" textLength="203.3" lengthAdjust="spacingAndGlyphs">Dideacetyl parasiticolide A</text>
<text x="615.2" y="612.2" class="lb" textLength="115.5" lengthAdjust="spacingAndGlyphs">Ditryptoleucine</text>
<text x="638.0" y="672.0" class="lb" textLength="143.5" lengthAdjust="spacingAndGlyphs">13-desoxypaxilline</text>
<text x="868.5" y="718.4" class="lb" textLength="86.0" lengthAdjust="spacingAndGlyphs">Aflavinines</text>
</g>
</svg>
</body></html>
